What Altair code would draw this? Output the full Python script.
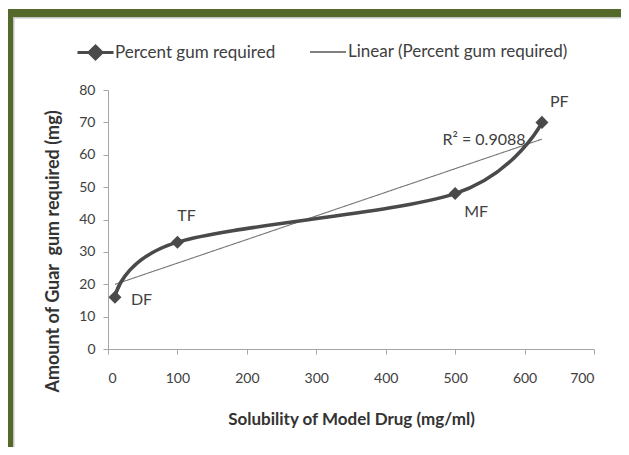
import altair as alt
import pandas as pd

# Data
solubility = [10, 100, 500, 625]
gum_required = [16, 33, 48, 70]
formulations = ["DF", "TF", "MF", "PF"]
series_name = "Percent gum required"
trend_name = "Linear (Percent gum required)"
x_ticks = [0, 100, 200, 300, 400, 500, 600, 700]
y_ticks = [0, 10, 20, 30, 40, 50, 60, 70, 80]

df = pd.DataFrame({"solubility": solubility, "gum": gum_required, "label": formulations})

FONT = "Lato"
DARK = "#4a4a4a"
TXT = "#404040"
AX = "#a6a6a6"
GREEN = "#55692b"
H_TOTAL = 439
BOTTOM = H_TOTAL - 82

x = alt.X("solubility:Q",
          scale=alt.Scale(domain=[0, 700], nice=False),
          axis=alt.Axis(values=x_ticks, title="Solubility of Model Drug (mg/ml)",
                        labelPadding=17, titlePadding=26, zindex=1))
y = alt.Y("gum:Q",
          scale=alt.Scale(domain=[0, 80], nice=False),
          axis=alt.Axis(values=y_ticks, title="Amount of Guar\u00a0 gum required (mg)",
                        labelPadding=8, titlePadding=16, titleY=161,
                        titleFontSize=18, zindex=1))

base = alt.Chart(df)

# decorative frame (green bands + grey inner border), in pixel units
frame_src = alt.Chart(alt.Data(values=[{"k": 1}]))
green_top = frame_src.mark_rect(color=GREEN).encode(
    x=alt.value(-100), x2=alt.value(513), y=alt.value(-81), y2=alt.value(-73))
green_left = frame_src.mark_rect(color=GREEN).encode(
    x=alt.value(-100), x2=alt.value(-95), y=alt.value(-81), y2=alt.value(BOTTOM))
grey_top = frame_src.mark_rect(color="#c4c4c4").encode(
    x=alt.value(-95), x2=alt.value(513), y=alt.value(-73), y2=alt.value(-71.5))
grey_left = frame_src.mark_rect(color="#c4c4c4").encode(
    x=alt.value(-95), x2=alt.value(-93.5), y=alt.value(-73), y2=alt.value(BOTTOM))

color = alt.Color(
    "series:N",
    scale=alt.Scale(domain=[series_name], range=[DARK]),
    legend=alt.Legend(title=None, orient="none", legendX=-32, legendY=-57,
                      symbolType="M-1,0H1M0,-0.36L0.36,0L0,0.36L-0.36,0Z",
                      symbolSize=1296, symbolStrokeWidth=3, symbolFillColor=DARK,
                      labelFont=FONT, labelFontSize=17, labelColor=TXT, labelLimit=400,
                      labelOffset=0, padding=0, zindex=1))

main_line = base.transform_calculate(series=f"'{series_name}'").mark_line(
    interpolate="cardinal", strokeWidth=3.5).encode(x=x, y=y, color=color)
main_pts = base.transform_calculate(series=f"'{series_name}'").mark_point(
    shape="diamond", filled=True, size=170, opacity=1).encode(x=x, y=y, color=color)

trend = base.transform_regression("solubility", "gum").transform_calculate(
    trend=f"'{trend_name}'").mark_line(color="#767676", strokeWidth=1.1).encode(
    x=x, y=y,
    strokeDash=alt.StrokeDash(
        "trend:N", scale=alt.Scale(domain=[trend_name], range=[[1, 0]]),
        legend=alt.Legend(title=None, orient="none", legendX=201, legendY=-57,
                          symbolType="stroke", symbolSize=1296,
                          symbolStrokeColor="#808080", symbolStrokeWidth=2,
                          labelFont=FONT, labelFontSize=17, labelColor=TXT,
                          labelLimit=400, labelOffset=1, padding=0, zindex=1)))

r2 = base.transform_regression("solubility", "gum", params=True).transform_calculate(
    txt="'R² = ' + format(datum.rSquared, '.4f')").mark_text(
    font=FONT, fontSize=16, color=TXT, align="center", baseline="middle").encode(
    x=alt.value(376), y=alt.value(50), text="txt:N")

label_layers = []
offsets = {"DF": (16, 3, "left"), "TF": (9, -26, "center"),
           "MF": (9, 18, "left"), "PF": (8, -20, "left")}
for lab in formulations:
    dx, dy, al = offsets[lab]
    label_layers.append(
        base.transform_filter(alt.datum.label == lab).mark_text(
            font=FONT, fontSize=16, color=TXT, align=al, baseline="middle",
            dx=dx, dy=dy).encode(x=x, y=y, text="label:N"))

chart = alt.layer(
    green_top, green_left, grey_top, grey_left,
    trend, main_line, main_pts, r2, *label_layers
).properties(
    width=486, height=259,
    autosize=alt.AutoSizeParams(type="none"),
    padding={"left": 100, "top": 82, "right": 27, "bottom": H_TOTAL - 82 - 259},
    background="white",
).configure_view(stroke=None).configure_axis(
    labelFont=FONT, labelFontSize=14, labelColor=TXT,
    titleFont=FONT, titleFontSize=17, titleFontWeight="bold", titleColor="#333333",
    domainColor=AX, tickColor=AX, tickSize=5, grid=False,
)

chart.save("out.html", embed_options={"renderer": "svg", "actions": False})
